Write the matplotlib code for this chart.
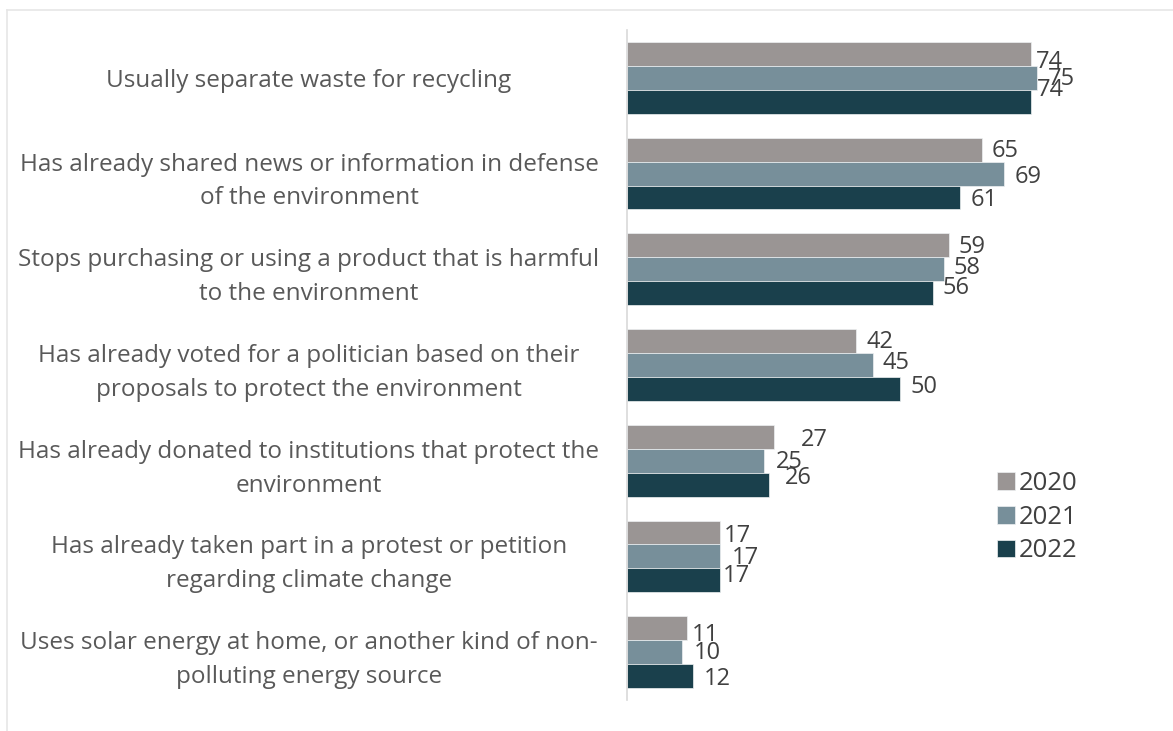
import matplotlib.pyplot as plt
import numpy as np
from matplotlib.lines import Line2D

# Données
categories = [
    "Usually separate waste for recycling",
    "Has already shared news or information in defense\nof the environment",
    "Stops purchasing or using a product that is harmful\nto the environment",
    "Has already voted for a politician based on their\nproposals to protect the environment",
    "Has already donated to institutions that protect the\nenvironment",
    "Has already taken part in a protest or petition\nregarding climate change",
    "Uses solar energy at home, or another kind of non-\npolluting energy source",
]
years = ["2020", "2021", "2022"]
values_2020 = [74, 65, 59, 42, 27, 17, 11]
values_2021 = [75, 69, 58, 45, 25, 17, 10]
values_2022 = [74, 61, 56, 50, 26, 17, 12]

colors = ["#9a9594", "#778f9a", "#1a404c"]
text_color = "#595959"
label_color = "#404040"

# Décalages des étiquettes (px) par groupe : [2020, 2021, 2022]
label_dx = [[5, 11, 6], [10, 11, 11], [9, 10, 10], [10, 10, 10],
            [26, 12, 16], [4, 12, 3], [5, 12, 11]]
label_dy = [[8, 1, -12], [1, 3, 3], [2, -1, -5], [1, -2, -2],
            [3, 1, -7], [4, 2, -4], [7, 1, 3]]

plt.rcParams["font.family"] = ["Open Sans", "DejaVu Sans"]

W, H = 1173, 731
fig = plt.figure(figsize=(W / 100, H / 100), dpi=100)
ax = fig.add_axes([627 / W, 1 - 700 / H, 546 / W, 670 / H])

n = len(categories)
y = np.arange(n)
h = 0.25
series = [values_2020, values_2021, values_2022]
for i, vals in enumerate(series):
    pos = y + (i - 1) * h
    bars = ax.barh(pos, vals, height=h, color=colors[i], label=years[i],
                   edgecolor="#eef1f2", linewidth=0.5)
    for k, (b, v) in enumerate(zip(bars, vals)):
        ax.annotate(f"{v}", (v, b.get_y() + b.get_height() / 2),
                    xytext=(label_dx[k][i] * 0.72, -label_dy[k][i] * 0.72),
                    textcoords="offset points",
                    ha="left", va="center", fontsize=17, color=label_color)

ax.set_xlim(0, 100)
ax.set_ylim(n - 0.5, -0.5)
ax.set_yticks(y)
ax.set_yticklabels(categories, fontsize=17.5, color=text_color, ha="center",
                   multialignment="center", linespacing=1.55)
ax.tick_params(axis="y", length=0, pad=(627 - 309) * 0.72)
ax.set_xticks([])
for s in ["top", "right", "bottom"]:
    ax.spines[s].set_visible(False)
ax.spines["left"].set_color("#d9d9d9")
ax.spines["left"].set_linewidth(1.2)

leg = ax.legend(loc="center left", bbox_to_anchor=(997 / W, 1 - 517 / H),
                bbox_transform=fig.transFigure, frameon=False,
                fontsize=18.5, labelcolor=label_color, handlelength=0.7,
                handleheight=0.7, handletextpad=0.15, labelspacing=0.35,
                borderpad=0, borderaxespad=0)

# Cadre léger en haut et à gauche
fig.add_artist(Line2D([7 / W, 7 / W], [0, 1 - 10 / H], color="#e6e6e6", lw=1.2))
fig.add_artist(Line2D([7 / W, 1], [1 - 10 / H, 1 - 10 / H], color="#e6e6e6", lw=1.2))

fig.savefig("out.png", dpi=100)
